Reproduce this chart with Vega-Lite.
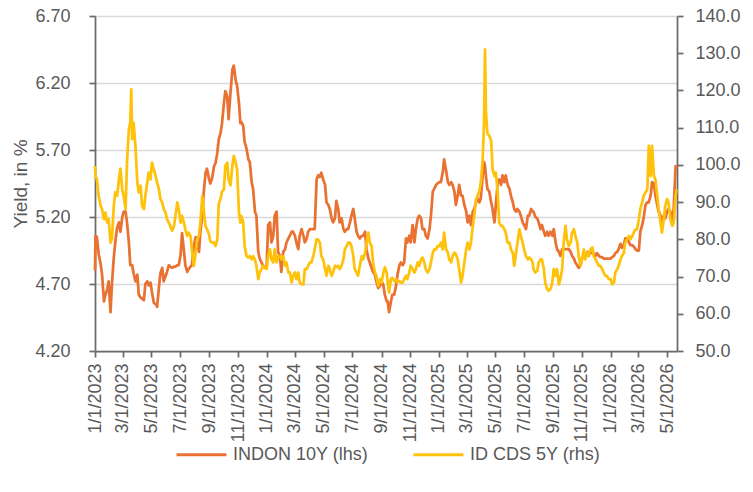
{
  "$schema": "https://vega.github.io/schema/vega-lite/v6.json",
  "width": 582,
  "height": 335,
  "autosize": {"type": "none"},
  "padding": {"left": 95, "top": 16, "right": 76, "bottom": 141},
  "background": "white",
  "config": {
    "view": {"stroke": null},
    "font": "Liberation Sans",
    "axis": {
      "labelFont": "Liberation Sans",
      "labelFontSize": 18,
      "labelColor": "#595959",
      "titleFont": "Liberation Sans",
      "titleFontSize": 19,
      "titleFontWeight": "normal",
      "titleColor": "#595959",
      "domainColor": "#6b6b6b",
      "domainWidth": 1.75,
      "tickColor": "#6b6b6b",
      "tickWidth": 1.75,
      "tickSize": 6,
      "gridColor": "#d9d9d9",
      "gridWidth": 1.5
    },
    "legend": {
      "labelFont": "Liberation Sans",
      "labelFontSize": 18,
      "labelColor": "#595959"
    }
  },
  "data": {
    "values": [
      {"date": "2023-01-01", "indon": 4.80, "cds": 99.7},
      {"date": "2023-01-02", "indon": 5.06, "cds": 97.0},
      {"date": "2023-01-05", "indon": 5.05, "cds": 96.1},
      {"date": "2023-01-09", "indon": 4.92, "cds": 91.5},
      {"date": "2023-01-13", "indon": 4.85, "cds": 89.0},
      {"date": "2023-01-16", "indon": 4.77, "cds": 88.1},
      {"date": "2023-01-20", "indon": 4.57, "cds": 85.4},
      {"date": "2023-01-23", "indon": 4.62, "cds": 87.2},
      {"date": "2023-01-27", "indon": 4.66, "cds": 84.5},
      {"date": "2023-01-30", "indon": 4.72, "cds": 85.4},
      {"date": "2023-02-03", "indon": 4.49, "cds": 79.1},
      {"date": "2023-02-06", "indon": 4.70, "cds": 80.0},
      {"date": "2023-02-10", "indon": 4.90, "cds": 89.0},
      {"date": "2023-02-13", "indon": 5.01, "cds": 92.6},
      {"date": "2023-02-17", "indon": 5.12, "cds": 91.7},
      {"date": "2023-02-21", "indon": 5.16, "cds": 96.1},
      {"date": "2023-02-24", "indon": 5.09, "cds": 99.0},
      {"date": "2023-02-28", "indon": 5.20, "cds": 93.4},
      {"date": "2023-03-03", "indon": 5.24, "cds": 91.7},
      {"date": "2023-03-07", "indon": 5.24, "cds": 88.1},
      {"date": "2023-03-10", "indon": 5.16, "cds": 100.6},
      {"date": "2023-03-14", "indon": 5.01, "cds": 109.6},
      {"date": "2023-03-17", "indon": 4.84, "cds": 111.3},
      {"date": "2023-03-19", "indon": 4.84, "cds": 120.3},
      {"date": "2023-03-21", "indon": 4.84, "cds": 106.9},
      {"date": "2023-03-24", "indon": 4.78, "cds": 111.3},
      {"date": "2023-03-28", "indon": 4.72, "cds": 105.0},
      {"date": "2023-04-01", "indon": 4.77, "cds": 95.2},
      {"date": "2023-04-04", "indon": 4.62, "cds": 92.6},
      {"date": "2023-04-08", "indon": 4.60, "cds": 94.4},
      {"date": "2023-04-11", "indon": 4.59, "cds": 89.0},
      {"date": "2023-04-15", "indon": 4.58, "cds": 88.1},
      {"date": "2023-04-18", "indon": 4.70, "cds": 91.7},
      {"date": "2023-04-22", "indon": 4.72, "cds": 95.2},
      {"date": "2023-04-25", "indon": 4.69, "cds": 97.9},
      {"date": "2023-04-29", "indon": 4.71, "cds": 96.1},
      {"date": "2023-05-02", "indon": 4.64, "cds": 100.6},
      {"date": "2023-05-06", "indon": 4.56, "cds": 98.8},
      {"date": "2023-05-10", "indon": 4.55, "cds": 97.0},
      {"date": "2023-05-13", "indon": 4.53, "cds": 95.2},
      {"date": "2023-05-17", "indon": 4.68, "cds": 93.4},
      {"date": "2023-05-20", "indon": 4.78, "cds": 90.8},
      {"date": "2023-05-24", "indon": 4.82, "cds": 89.9},
      {"date": "2023-05-27", "indon": 4.72, "cds": 88.1},
      {"date": "2023-05-31", "indon": 4.76, "cds": 87.2},
      {"date": "2023-06-03", "indon": 4.79, "cds": 85.4},
      {"date": "2023-06-07", "indon": 4.84, "cds": 84.5},
      {"date": "2023-06-10", "indon": 4.83, "cds": 83.6},
      {"date": "2023-06-14", "indon": 4.82, "cds": 82.3},
      {"date": "2023-06-18", "indon": 4.83, "cds": 83.6},
      {"date": "2023-06-21", "indon": 4.83, "cds": 86.3},
      {"date": "2023-06-25", "indon": 4.84, "cds": 89.9},
      {"date": "2023-06-28", "indon": 4.84, "cds": 88.1},
      {"date": "2023-07-02", "indon": 4.92, "cds": 84.5},
      {"date": "2023-07-05", "indon": 5.08, "cds": 86.3},
      {"date": "2023-07-09", "indon": 4.95, "cds": 84.5},
      {"date": "2023-07-12", "indon": 4.84, "cds": 82.7},
      {"date": "2023-07-16", "indon": 4.79, "cds": 80.9},
      {"date": "2023-07-19", "indon": 4.81, "cds": 81.8},
      {"date": "2023-07-23", "indon": 4.83, "cds": 80.9},
      {"date": "2023-07-26", "indon": 4.84, "cds": 77.3},
      {"date": "2023-07-30", "indon": 4.98, "cds": 72.9},
      {"date": "2023-08-03", "indon": 5.05, "cds": 76.4},
      {"date": "2023-08-06", "indon": 5.01, "cds": 80.0},
      {"date": "2023-08-10", "indon": 4.94, "cds": 80.9},
      {"date": "2023-08-13", "indon": 5.09, "cds": 84.5},
      {"date": "2023-08-17", "indon": 5.21, "cds": 91.7},
      {"date": "2023-08-20", "indon": 5.38, "cds": 88.0},
      {"date": "2023-08-24", "indon": 5.53, "cds": 83.5},
      {"date": "2023-08-27", "indon": 5.56, "cds": 82.7},
      {"date": "2023-08-31", "indon": 5.49, "cds": 81.5},
      {"date": "2023-09-03", "indon": 5.45, "cds": 79.5},
      {"date": "2023-09-07", "indon": 5.49, "cds": 79.1},
      {"date": "2023-09-11", "indon": 5.58, "cds": 79.1},
      {"date": "2023-09-14", "indon": 5.60, "cds": 78.2},
      {"date": "2023-09-18", "indon": 5.68, "cds": 80.0},
      {"date": "2023-09-21", "indon": 5.78, "cds": 89.5},
      {"date": "2023-09-25", "indon": 5.83, "cds": 91.0},
      {"date": "2023-09-28", "indon": 5.90, "cds": 92.8},
      {"date": "2023-10-02", "indon": 6.05, "cds": 93.4},
      {"date": "2023-10-05", "indon": 6.14, "cds": 99.7},
      {"date": "2023-10-09", "indon": 6.10, "cds": 100.6},
      {"date": "2023-10-12", "indon": 5.93, "cds": 96.0},
      {"date": "2023-10-16", "indon": 6.13, "cds": 94.5},
      {"date": "2023-10-20", "indon": 6.30, "cds": 99.7},
      {"date": "2023-10-23", "indon": 6.33, "cds": 102.4},
      {"date": "2023-10-27", "indon": 6.22, "cds": 100.6},
      {"date": "2023-10-30", "indon": 6.18, "cds": 98.8},
      {"date": "2023-11-03", "indon": 6.05, "cds": 87.2},
      {"date": "2023-11-06", "indon": 5.90, "cds": 84.5},
      {"date": "2023-11-08", "indon": 5.91, "cds": 86.3},
      {"date": "2023-11-12", "indon": 5.88, "cds": 84.5},
      {"date": "2023-11-15", "indon": 5.76, "cds": 78.2},
      {"date": "2023-11-19", "indon": 5.71, "cds": 75.5},
      {"date": "2023-11-23", "indon": 5.63, "cds": 75.1},
      {"date": "2023-11-26", "indon": 5.61, "cds": 75.5},
      {"date": "2023-11-30", "indon": 5.46, "cds": 74.6},
      {"date": "2023-12-03", "indon": 5.41, "cds": 75.5},
      {"date": "2023-12-07", "indon": 5.24, "cds": 74.6},
      {"date": "2023-12-10", "indon": 5.21, "cds": 72.9},
      {"date": "2023-12-14", "indon": 4.94, "cds": 69.3},
      {"date": "2023-12-17", "indon": 4.89, "cds": 71.1},
      {"date": "2023-12-21", "indon": 4.86, "cds": 72.0},
      {"date": "2023-12-24", "indon": 4.84, "cds": 72.9},
      {"date": "2023-12-28", "indon": 4.82, "cds": 72.5},
      {"date": "2024-01-01", "indon": 4.84, "cds": 72.0},
      {"date": "2024-01-04", "indon": 5.14, "cds": 75.5},
      {"date": "2024-01-08", "indon": 5.16, "cds": 77.3},
      {"date": "2024-01-11", "indon": 5.01, "cds": 74.6},
      {"date": "2024-01-15", "indon": 5.06, "cds": 73.8},
      {"date": "2024-01-18", "indon": 5.21, "cds": 77.3},
      {"date": "2024-01-22", "indon": 5.24, "cds": 73.8},
      {"date": "2024-01-25", "indon": 4.94, "cds": 75.5},
      {"date": "2024-01-29", "indon": 4.91, "cds": 75.5},
      {"date": "2024-02-01", "indon": 4.79, "cds": 74.6},
      {"date": "2024-02-05", "indon": 4.94, "cds": 75.5},
      {"date": "2024-02-09", "indon": 4.96, "cds": 72.9},
      {"date": "2024-02-12", "indon": 5.01, "cds": 73.8},
      {"date": "2024-02-16", "indon": 5.04, "cds": 71.1},
      {"date": "2024-02-19", "indon": 5.06, "cds": 71.1},
      {"date": "2024-02-23", "indon": 5.09, "cds": 68.4},
      {"date": "2024-02-26", "indon": 5.09, "cds": 70.2},
      {"date": "2024-03-01", "indon": 5.06, "cds": 71.1},
      {"date": "2024-03-04", "indon": 5.01, "cds": 69.3},
      {"date": "2024-03-08", "indon": 4.96, "cds": 71.1},
      {"date": "2024-03-11", "indon": 5.06, "cds": 68.4},
      {"date": "2024-03-15", "indon": 5.11, "cds": 67.9},
      {"date": "2024-03-19", "indon": 5.06, "cds": 67.9},
      {"date": "2024-03-22", "indon": 5.01, "cds": 72.0},
      {"date": "2024-03-26", "indon": 5.04, "cds": 72.0},
      {"date": "2024-03-29", "indon": 5.09, "cds": 72.9},
      {"date": "2024-04-02", "indon": 5.11, "cds": 73.8},
      {"date": "2024-04-05", "indon": 5.11, "cds": 73.8},
      {"date": "2024-04-09", "indon": 5.11, "cds": 75.5},
      {"date": "2024-04-12", "indon": 5.11, "cds": 77.3},
      {"date": "2024-04-16", "indon": 5.48, "cds": 80.0},
      {"date": "2024-04-19", "indon": 5.51, "cds": 80.0},
      {"date": "2024-04-23", "indon": 5.50, "cds": 79.1},
      {"date": "2024-04-26", "indon": 5.53, "cds": 75.5},
      {"date": "2024-04-30", "indon": 5.48, "cds": 74.6},
      {"date": "2024-05-04", "indon": 5.44, "cds": 72.0},
      {"date": "2024-05-07", "indon": 5.31, "cds": 70.2},
      {"date": "2024-05-11", "indon": 5.29, "cds": 72.9},
      {"date": "2024-05-14", "indon": 5.26, "cds": 72.0},
      {"date": "2024-05-18", "indon": 5.19, "cds": 70.2},
      {"date": "2024-05-21", "indon": 5.16, "cds": 71.1},
      {"date": "2024-05-25", "indon": 5.19, "cds": 72.9},
      {"date": "2024-05-28", "indon": 5.32, "cds": 72.5},
      {"date": "2024-06-01", "indon": 5.26, "cds": 72.9},
      {"date": "2024-06-04", "indon": 5.16, "cds": 72.0},
      {"date": "2024-06-08", "indon": 5.19, "cds": 72.9},
      {"date": "2024-06-12", "indon": 5.11, "cds": 74.6},
      {"date": "2024-06-15", "indon": 5.09, "cds": 77.3},
      {"date": "2024-06-19", "indon": 5.11, "cds": 78.2},
      {"date": "2024-06-22", "indon": 5.11, "cds": 79.1},
      {"date": "2024-06-26", "indon": 5.16, "cds": 79.1},
      {"date": "2024-06-29", "indon": 5.21, "cds": 78.2},
      {"date": "2024-07-03", "indon": 5.26, "cds": 75.5},
      {"date": "2024-07-06", "indon": 5.19, "cds": 72.0},
      {"date": "2024-07-10", "indon": 5.09, "cds": 71.1},
      {"date": "2024-07-13", "indon": 5.06, "cds": 70.2},
      {"date": "2024-07-17", "indon": 5.04, "cds": 72.9},
      {"date": "2024-07-21", "indon": 5.06, "cds": 75.5},
      {"date": "2024-07-24", "indon": 5.06, "cds": 74.6},
      {"date": "2024-07-28", "indon": 5.09, "cds": 76.4},
      {"date": "2024-07-31", "indon": 4.96, "cds": 79.1},
      {"date": "2024-08-04", "indon": 4.89, "cds": 81.8},
      {"date": "2024-08-07", "indon": 4.86, "cds": 79.1},
      {"date": "2024-08-11", "indon": 4.82, "cds": 78.2},
      {"date": "2024-08-14", "indon": 4.79, "cds": 73.8},
      {"date": "2024-08-18", "indon": 4.77, "cds": 71.1},
      {"date": "2024-08-21", "indon": 4.72, "cds": 70.2},
      {"date": "2024-08-25", "indon": 4.67, "cds": 67.5},
      {"date": "2024-08-29", "indon": 4.69, "cds": 69.3},
      {"date": "2024-09-01", "indon": 4.72, "cds": 68.4},
      {"date": "2024-09-05", "indon": 4.69, "cds": 71.1},
      {"date": "2024-09-08", "indon": 4.62, "cds": 72.5},
      {"date": "2024-09-12", "indon": 4.57, "cds": 71.1},
      {"date": "2024-09-14", "indon": 4.57, "cds": 68.4},
      {"date": "2024-09-17", "indon": 4.49, "cds": 65.7},
      {"date": "2024-09-21", "indon": 4.57, "cds": 69.3},
      {"date": "2024-09-24", "indon": 4.62, "cds": 69.7},
      {"date": "2024-09-28", "indon": 4.62, "cds": 68.8},
      {"date": "2024-10-02", "indon": 4.69, "cds": 69.3},
      {"date": "2024-10-05", "indon": 4.77, "cds": 68.4},
      {"date": "2024-10-09", "indon": 4.84, "cds": 68.8},
      {"date": "2024-10-12", "indon": 4.86, "cds": 68.4},
      {"date": "2024-10-16", "indon": 4.84, "cds": 68.4},
      {"date": "2024-10-19", "indon": 4.86, "cds": 69.3},
      {"date": "2024-10-23", "indon": 5.04, "cds": 70.2},
      {"date": "2024-10-26", "indon": 5.01, "cds": 69.3},
      {"date": "2024-10-30", "indon": 5.06, "cds": 71.1},
      {"date": "2024-11-02", "indon": 5.01, "cds": 72.9},
      {"date": "2024-11-06", "indon": 5.14, "cds": 72.0},
      {"date": "2024-11-10", "indon": 5.01, "cds": 71.1},
      {"date": "2024-11-13", "indon": 5.11, "cds": 72.0},
      {"date": "2024-11-17", "indon": 5.19, "cds": 73.8},
      {"date": "2024-11-20", "indon": 5.21, "cds": 72.9},
      {"date": "2024-11-24", "indon": 5.19, "cds": 74.6},
      {"date": "2024-11-27", "indon": 5.11, "cds": 75.1},
      {"date": "2024-12-01", "indon": 5.11, "cds": 73.8},
      {"date": "2024-12-04", "indon": 5.06, "cds": 72.0},
      {"date": "2024-12-08", "indon": 5.04, "cds": 71.1},
      {"date": "2024-12-12", "indon": 5.11, "cds": 72.0},
      {"date": "2024-12-15", "indon": 5.21, "cds": 73.8},
      {"date": "2024-12-19", "indon": 5.39, "cds": 76.4},
      {"date": "2024-12-22", "indon": 5.41, "cds": 77.3},
      {"date": "2024-12-26", "indon": 5.44, "cds": 77.3},
      {"date": "2024-12-29", "indon": 5.45, "cds": 78.2},
      {"date": "2025-01-02", "indon": 5.46, "cds": 78.2},
      {"date": "2025-01-05", "indon": 5.46, "cds": 79.1},
      {"date": "2025-01-09", "indon": 5.53, "cds": 77.3},
      {"date": "2025-01-12", "indon": 5.63, "cds": 81.8},
      {"date": "2025-01-16", "indon": 5.55, "cds": 77.5},
      {"date": "2025-01-20", "indon": 5.46, "cds": 76.4},
      {"date": "2025-01-23", "indon": 5.44, "cds": 74.6},
      {"date": "2025-01-27", "indon": 5.46, "cds": 73.8},
      {"date": "2025-01-30", "indon": 5.44, "cds": 75.5},
      {"date": "2025-02-03", "indon": 5.39, "cds": 76.4},
      {"date": "2025-02-06", "indon": 5.29, "cds": 76.0},
      {"date": "2025-02-10", "indon": 5.36, "cds": 74.6},
      {"date": "2025-02-13", "indon": 5.44, "cds": 72.0},
      {"date": "2025-02-17", "indon": 5.36, "cds": 68.4},
      {"date": "2025-02-20", "indon": 5.36, "cds": 70.0},
      {"date": "2025-02-24", "indon": 5.29, "cds": 73.8},
      {"date": "2025-02-28", "indon": 5.24, "cds": 77.3},
      {"date": "2025-03-03", "indon": 5.16, "cds": 79.1},
      {"date": "2025-03-07", "indon": 5.21, "cds": 77.3},
      {"date": "2025-03-10", "indon": 5.14, "cds": 79.1},
      {"date": "2025-03-14", "indon": 5.24, "cds": 83.6},
      {"date": "2025-03-17", "indon": 5.26, "cds": 86.3},
      {"date": "2025-03-21", "indon": 5.31, "cds": 90.8},
      {"date": "2025-03-24", "indon": 5.34, "cds": 91.7},
      {"date": "2025-03-28", "indon": 5.31, "cds": 93.0},
      {"date": "2025-03-31", "indon": 5.34, "cds": 95.2},
      {"date": "2025-04-04", "indon": 5.51, "cds": 101.5},
      {"date": "2025-04-07", "indon": 5.61, "cds": 112.0},
      {"date": "2025-04-09", "indon": 5.58, "cds": 131.0},
      {"date": "2025-04-11", "indon": 5.50, "cds": 114.0},
      {"date": "2025-04-14", "indon": 5.41, "cds": 108.5},
      {"date": "2025-04-18", "indon": 5.39, "cds": 107.8},
      {"date": "2025-04-22", "indon": 5.31, "cds": 106.5},
      {"date": "2025-04-25", "indon": 5.26, "cds": 99.0},
      {"date": "2025-04-29", "indon": 5.16, "cds": 97.0},
      {"date": "2025-05-02", "indon": 5.29, "cds": 97.9},
      {"date": "2025-05-06", "indon": 5.46, "cds": 92.6},
      {"date": "2025-05-09", "indon": 5.48, "cds": 84.5},
      {"date": "2025-05-13", "indon": 5.44, "cds": 83.6},
      {"date": "2025-05-16", "indon": 5.51, "cds": 83.6},
      {"date": "2025-05-20", "indon": 5.46, "cds": 82.7},
      {"date": "2025-05-23", "indon": 5.51, "cds": 81.8},
      {"date": "2025-05-27", "indon": 5.44, "cds": 79.1},
      {"date": "2025-05-31", "indon": 5.41, "cds": 79.1},
      {"date": "2025-06-03", "indon": 5.36, "cds": 77.3},
      {"date": "2025-06-07", "indon": 5.31, "cds": 76.4},
      {"date": "2025-06-10", "indon": 5.26, "cds": 72.9},
      {"date": "2025-06-14", "indon": 5.24, "cds": 76.4},
      {"date": "2025-06-17", "indon": 5.26, "cds": 79.1},
      {"date": "2025-06-21", "indon": 5.24, "cds": 82.7},
      {"date": "2025-06-24", "indon": 5.21, "cds": 80.9},
      {"date": "2025-06-28", "indon": 5.16, "cds": 79.1},
      {"date": "2025-07-01", "indon": 5.14, "cds": 77.3},
      {"date": "2025-07-05", "indon": 5.11, "cds": 75.5},
      {"date": "2025-07-09", "indon": 5.21, "cds": 74.6},
      {"date": "2025-07-12", "indon": 5.21, "cds": 75.1},
      {"date": "2025-07-16", "indon": 5.26, "cds": 74.6},
      {"date": "2025-07-19", "indon": 5.24, "cds": 73.8},
      {"date": "2025-07-21", "indon": 5.24, "cds": 72.0},
      {"date": "2025-07-25", "indon": 5.20, "cds": 71.1},
      {"date": "2025-07-29", "indon": 5.19, "cds": 71.5},
      {"date": "2025-08-01", "indon": 5.16, "cds": 73.8},
      {"date": "2025-08-05", "indon": 5.11, "cds": 74.6},
      {"date": "2025-08-08", "indon": 5.14, "cds": 74.6},
      {"date": "2025-08-12", "indon": 5.09, "cds": 72.0},
      {"date": "2025-08-15", "indon": 5.06, "cds": 68.4},
      {"date": "2025-08-19", "indon": 5.09, "cds": 66.6},
      {"date": "2025-08-22", "indon": 5.06, "cds": 66.2},
      {"date": "2025-08-26", "indon": 5.09, "cds": 66.6},
      {"date": "2025-08-30", "indon": 5.06, "cds": 68.4},
      {"date": "2025-09-02", "indon": 5.11, "cds": 72.0},
      {"date": "2025-09-06", "indon": 5.01, "cds": 70.2},
      {"date": "2025-09-09", "indon": 4.96, "cds": 72.0},
      {"date": "2025-09-13", "indon": 4.94, "cds": 67.9},
      {"date": "2025-09-16", "indon": 4.91, "cds": 69.3},
      {"date": "2025-09-20", "indon": 4.96, "cds": 72.0},
      {"date": "2025-09-23", "indon": 4.96, "cds": 79.1},
      {"date": "2025-09-27", "indon": 4.96, "cds": 83.6},
      {"date": "2025-09-30", "indon": 4.96, "cds": 80.0},
      {"date": "2025-10-04", "indon": 4.96, "cds": 78.2},
      {"date": "2025-10-08", "indon": 4.94, "cds": 79.1},
      {"date": "2025-10-11", "indon": 4.91, "cds": 81.8},
      {"date": "2025-10-15", "indon": 4.89, "cds": 82.7},
      {"date": "2025-10-18", "indon": 4.86, "cds": 80.9},
      {"date": "2025-10-22", "indon": 4.84, "cds": 79.1},
      {"date": "2025-10-25", "indon": 4.82, "cds": 75.5},
      {"date": "2025-10-29", "indon": 4.84, "cds": 72.9},
      {"date": "2025-11-01", "indon": 4.89, "cds": 74.6},
      {"date": "2025-11-05", "indon": 4.91, "cds": 77.3},
      {"date": "2025-11-08", "indon": 4.91, "cds": 74.6},
      {"date": "2025-11-12", "indon": 4.94, "cds": 76.4},
      {"date": "2025-11-15", "indon": 4.91, "cds": 75.5},
      {"date": "2025-11-19", "indon": 4.94, "cds": 77.3},
      {"date": "2025-11-23", "indon": 4.93, "cds": 77.8},
      {"date": "2025-11-26", "indon": 4.93, "cds": 75.5},
      {"date": "2025-11-30", "indon": 4.91, "cds": 74.6},
      {"date": "2025-12-03", "indon": 4.93, "cds": 73.8},
      {"date": "2025-12-07", "indon": 4.91, "cds": 72.9},
      {"date": "2025-12-10", "indon": 4.90, "cds": 72.9},
      {"date": "2025-12-14", "indon": 4.90, "cds": 72.0},
      {"date": "2025-12-17", "indon": 4.89, "cds": 71.1},
      {"date": "2025-12-21", "indon": 4.89, "cds": 70.2},
      {"date": "2025-12-24", "indon": 4.89, "cds": 70.2},
      {"date": "2025-12-28", "indon": 4.89, "cds": 69.3},
      {"date": "2026-01-01", "indon": 4.89, "cds": 69.3},
      {"date": "2026-01-04", "indon": 4.90, "cds": 67.9},
      {"date": "2026-01-08", "indon": 4.91, "cds": 68.4},
      {"date": "2026-01-11", "indon": 4.93, "cds": 71.1},
      {"date": "2026-01-15", "indon": 4.94, "cds": 72.0},
      {"date": "2026-01-18", "indon": 4.96, "cds": 72.9},
      {"date": "2026-01-22", "indon": 5.00, "cds": 74.6},
      {"date": "2026-01-25", "indon": 4.97, "cds": 75.5},
      {"date": "2026-01-29", "indon": 4.99, "cds": 76.4},
      {"date": "2026-02-01", "indon": 5.04, "cds": 79.1},
      {"date": "2026-02-05", "indon": 5.04, "cds": 80.0},
      {"date": "2026-02-09", "indon": 5.01, "cds": 80.9},
      {"date": "2026-02-12", "indon": 4.99, "cds": 80.0},
      {"date": "2026-02-16", "indon": 4.99, "cds": 80.9},
      {"date": "2026-02-19", "indon": 4.98, "cds": 81.8},
      {"date": "2026-02-23", "indon": 4.96, "cds": 82.7},
      {"date": "2026-02-26", "indon": 4.95, "cds": 82.7},
      {"date": "2026-03-02", "indon": 4.95, "cds": 85.4},
      {"date": "2026-03-05", "indon": 5.09, "cds": 88.1},
      {"date": "2026-03-09", "indon": 5.14, "cds": 89.9},
      {"date": "2026-03-12", "indon": 5.19, "cds": 91.7},
      {"date": "2026-03-16", "indon": 5.29, "cds": 92.6},
      {"date": "2026-03-20", "indon": 5.31, "cds": 93.4},
      {"date": "2026-03-23", "indon": 5.31, "cds": 105.1},
      {"date": "2026-03-27", "indon": 5.36, "cds": 97.0},
      {"date": "2026-03-30", "indon": 5.46, "cds": 105.1},
      {"date": "2026-04-03", "indon": 5.45, "cds": 97.0},
      {"date": "2026-04-06", "indon": 5.36, "cds": 96.1},
      {"date": "2026-04-10", "indon": 5.29, "cds": 91.7},
      {"date": "2026-04-13", "indon": 5.24, "cds": 88.1},
      {"date": "2026-04-17", "indon": 5.21, "cds": 84.5},
      {"date": "2026-04-20", "indon": 5.16, "cds": 81.8},
      {"date": "2026-04-24", "indon": 5.21, "cds": 85.4},
      {"date": "2026-04-27", "indon": 5.19, "cds": 89.0},
      {"date": "2026-05-01", "indon": 5.24, "cds": 90.8},
      {"date": "2026-05-04", "indon": 5.26, "cds": 89.9},
      {"date": "2026-05-08", "indon": 5.24, "cds": 85.4},
      {"date": "2026-05-12", "indon": 5.16, "cds": 83.6},
      {"date": "2026-05-15", "indon": 5.26, "cds": 84.5},
      {"date": "2026-05-19", "indon": 5.58, "cds": 91.7},
      {"date": "2026-05-21", "indon": 5.56, "cds": 93.4}
    ]
  },
  "encoding": {
    "x": {
      "field": "date",
      "type": "temporal",
      "scale": {
        "type": "utc",
        "domain": [
          {"year": 2023, "month": 1, "date": 1, "utc": true},
          {"year": 2026, "month": 5, "date": 22, "utc": true}
        ]
      },
      "axis": {
        "title": null,
        "grid": false,
        "values": [
          {"year": 2023, "month": 1, "date": 1, "utc": true},
          {"year": 2023, "month": 3, "date": 1, "utc": true},
          {"year": 2023, "month": 5, "date": 1, "utc": true},
          {"year": 2023, "month": 7, "date": 1, "utc": true},
          {"year": 2023, "month": 9, "date": 1, "utc": true},
          {"year": 2023, "month": 11, "date": 1, "utc": true},
          {"year": 2024, "month": 1, "date": 1, "utc": true},
          {"year": 2024, "month": 3, "date": 1, "utc": true},
          {"year": 2024, "month": 5, "date": 1, "utc": true},
          {"year": 2024, "month": 7, "date": 1, "utc": true},
          {"year": 2024, "month": 9, "date": 1, "utc": true},
          {"year": 2024, "month": 11, "date": 1, "utc": true},
          {"year": 2025, "month": 1, "date": 1, "utc": true},
          {"year": 2025, "month": 3, "date": 1, "utc": true},
          {"year": 2025, "month": 5, "date": 1, "utc": true},
          {"year": 2025, "month": 7, "date": 1, "utc": true},
          {"year": 2025, "month": 9, "date": 1, "utc": true},
          {"year": 2025, "month": 11, "date": 1, "utc": true},
          {"year": 2026, "month": 1, "date": 1, "utc": true},
          {"year": 2026, "month": 3, "date": 1, "utc": true},
          {"year": 2026, "month": 5, "date": 1, "utc": true}
        ],
        "labelExpr": "utcFormat(datum.value, '%-m/%-d/%Y')",
        "labelAngle": -90,
        "labelAlign": "right",
        "labelBaseline": "middle",
        "labelPadding": 6,
        "labelOverlap": false,
        "labelFlush": false
      }
    }
  },
  "layer": [
    {
      "mark": {"type": "line", "strokeWidth": 2.75, "strokeJoin": "round"},
      "encoding": {
        "y": {
          "field": "indon",
          "type": "quantitative",
          "scale": {"domain": [4.2, 6.7], "nice": false, "zero": false},
          "axis": {
            "title": "Yield, in %",
            "values": [4.2, 4.7, 5.2, 5.7, 6.2, 6.7],
            "format": ".2f",
            "grid": true,
            "labelPadding": 19,
            "titlePadding": 4
          }
        },
        "color": {
          "datum": "INDON 10Y (lhs)",
          "type": "nominal",
          "scale": {
            "domain": ["INDON 10Y (lhs)", "ID CDS 5Y (rhs)"],
            "range": ["#E97132", "#FFC20A"]
          },
          "legend": {
            "title": null,
            "orient": "none",
            "legendX": 80,
            "legendY": 412,
            "direction": "horizontal",
            "symbolType": "stroke",
            "symbolSize": 2500,
            "symbolStrokeWidth": 3,
            "labelOffset": 5,
            "columnPadding": 38,
            "labelLimit": 300
          }
        }
      }
    },
    {
      "mark": {"type": "line", "strokeWidth": 2.75, "strokeJoin": "round"},
      "encoding": {
        "y": {
          "field": "cds",
          "type": "quantitative",
          "scale": {"domain": [50, 140], "nice": false, "zero": false},
          "axis": {
            "orient": "right",
            "title": null,
            "values": [50, 60, 70, 80, 90, 100, 110, 120, 130, 140],
            "format": ".1f",
            "grid": false,
            "labelPadding": 12
          }
        },
        "color": {"datum": "ID CDS 5Y (rhs)", "type": "nominal"}
      }
    }
  ],
  "resolve": {"scale": {"y": "independent"}}
}
